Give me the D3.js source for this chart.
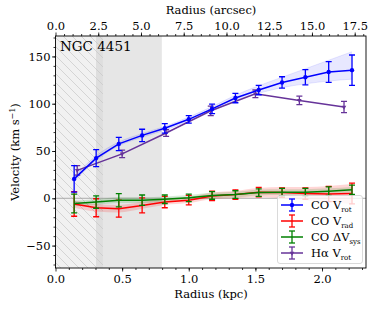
<!DOCTYPE html>
<head>
  <meta charset="UTF-8">
  <style>
    body { margin: 0; background: #fff; }
    svg { display: block; font-family: "DejaVu Serif", serif; }
  </style>
</head>
<body>
<script src="https://d3js.org/d3.v7.min.js"></script>
<div id="chart"></div>
<script>
  // CO ring radii (kpc)
  var radCO = [0.14, 0.305, 0.475, 0.65, 0.82, 1.0, 1.175, 1.35, 1.525, 1.70, 1.875, 2.05, 2.225];
  // CO rotation velocity
  var vRot = [20.5, 42.5, 57.5, 66.5, 74, 83.5, 94.5, 106, 114.5, 122.5, 128, 133.5, 135.5];
  var vRotErr = [14, 9, 7, 6.5, 5, 4, 5, 5, 5, 6, 8, 11, 16];
  var vRotLo = [18, 40, 55.5, 64.5, 72, 81.5, 92, 103, 111, 117, 121, 124, 126];
  var vRotHi = [23, 45, 59.5, 68.5, 76, 86, 97, 109, 119, 128, 137, 146, 155];
  // CO radial velocity
  var vRad = [-6, -10, -11, -7.5, -4, -2, 2.5, 4, 6.5, 6, 5, 4.5, 5];
  var vRadErr = [13, 9.5, 9, 8, 6, 5, 5, 5, 5, 5, 6, 8, 11];
  var vRadLo = [-10, -14, -15, -11, -7, -5, -1, 0, 1, 0, -2, -4, -6];
  var vRadHi = [-2, -6, -7, -4, -1, 1, 6, 8, 11, 12, 12, 13, 15];
  // CO systemic velocity offset
  var vSys = [-5.5, -4, -2, -2, -1, 0.5, 3, 4, 6, 6.5, 6.5, 7.5, 9];
  var vSysErr = [10, 6.5, 7, 5.5, 4.5, 4, 4, 4, 4, 4, 4, 4.5, 5];
  var vSysLo = [-8.5, -7, -5, -5, -4, -2.5, 0, 1, 3, 3.5, 3.5, 4.5, 6];
  var vSysHi = [-2.5, -1, 1, 1, 2, 3.5, 6, 7, 9, 9.5, 9.5, 10.5, 12];
  // H-alpha rotation
  var radHa = [0.163, 0.50, 0.83, 1.165, 1.50, 1.83, 2.165];
  var vHa = [29.5, 47, 69, 92.5, 110.5, 103.5, 96.5];
  var vHaErr = [5, 4, 3.5, 5, 4, 4.5, 6];

  var kpcTicks = [0.0, 0.5, 1.0, 1.5, 2.0];
  var arcTicks = [0.0, 2.5, 5.0, 7.5, 10.0, 12.5, 15.0, 17.5];
  var velTicks = [-50, 0, 50, 100, 150];
  var kpcPerArcsec = 0.1283;
  var beamEnd = 0.356;          // hatched region
  var greyBand = [0.304, 0.798];

  var width = 374, height = 309;
  var margin = {top: 36, right: 8, bottom: 41, left: 55.5};

  var svg = d3.select("#chart").append("svg")
    .attr("width", width).attr("height", height);

  var x = d3.scaleLinear().domain([0, 2.33]).range([margin.left, width - margin.right]);
  var xa = d3.scaleLinear().domain([0, 2.33 / kpcPerArcsec]).range([margin.left, width - margin.right]);
  var y = d3.scaleLinear().domain([-73.7, 171.6]).range([height - margin.bottom, margin.top]);

  var defs = svg.append("defs");
  var pat = defs.append("pattern").attr("id", "hatch")
    .attr("patternUnits", "userSpaceOnUse").attr("width", 9).attr("height", 9);
  pat.append("rect").attr("width", 9).attr("height", 9).attr("fill", "#f1f1f1");
  pat.append("path").attr("d", "M-1,-1 L10,10 M-1,8 L1,10 M8,-1 L10,1")
    .attr("stroke", "#cdcdcd").attr("stroke-width", 0.8);
  defs.append("clipPath").attr("id", "clip").append("rect")
    .attr("x", x(0)).attr("y", y.range()[1])
    .attr("width", x.range()[1] - x(0)).attr("height", y.range()[0] - y.range()[1]);

  var plot = svg.append("g").attr("clip-path", "url(#clip)");

  // shaded regions
  plot.append("rect")
    .attr("x", x(0)).attr("y", margin.top)
    .attr("width", x(beamEnd) - x(0)).attr("height", y.range()[0] - margin.top)
    .attr("fill", "url(#hatch)");
  plot.append("rect")
    .attr("x", x(greyBand[0])).attr("y", margin.top)
    .attr("width", x(greyBand[1]) - x(greyBand[0])).attr("height", y.range()[0] - margin.top)
    .attr("fill", "#c8c8c8").attr("opacity", 0.45);

  // zero line
  plot.append("line")
    .attr("x1", x(0)).attr("x2", x.range()[1])
    .attr("y1", y(0)).attr("y2", y(0))
    .attr("stroke", "#999").attr("stroke-width", 0.8);

  function band(rad, lo, hi, color, op) {
    var area = d3.area()
      .x(function(d, i) { return x(rad[i]); })
      .y0(function(d, i) { return y(lo[i]); })
      .y1(function(d, i) { return y(hi[i]); })
      .curve(d3.curveMonotoneX);
    plot.append("path").datum(rad).attr("d", area)
      .attr("fill", color).attr("opacity", op);
  }

  band(radCO, vRadLo, vRadHi, "#ff0000", 0.16);
  band(radCO, vSysLo, vSysHi, "#008000", 0.15);
  band(radCO, vRotLo, vRotHi, "#0000ff", 0.09);
  // faint sample lines at band edges
  [vRotLo, vRotHi].forEach(function(arr) {
    plot.append("path").datum(radCO)
      .attr("d", d3.line().x(function(d) { return x(d); })
        .y(function(d, i) { return y(arr[i]); }).curve(d3.curveMonotoneX))
      .attr("fill", "none").attr("stroke", "#0000ff").attr("stroke-opacity", 0.12).attr("stroke-width", 0.8);
  });

  function series(rad, val, err, color, marker) {
    var g = plot.append("g");
    g.append("path").datum(rad)
      .attr("d", d3.line().x(function(d) { return x(d); }).y(function(d, i) { return y(val[i]); }))
      .attr("fill", "none").attr("stroke", color).attr("stroke-width", 1.5);
    rad.forEach(function(r, i) {
      var cx = x(r);
      g.append("line").attr("x1", cx).attr("x2", cx)
        .attr("y1", y(val[i] - err[i])).attr("y2", y(val[i] + err[i]))
        .attr("stroke", color).attr("stroke-width", 1.3);
      [val[i] - err[i], val[i] + err[i]].forEach(function(v) {
        g.append("line").attr("x1", cx - 3).attr("x2", cx + 3)
          .attr("y1", y(v)).attr("y2", y(v))
          .attr("stroke", color).attr("stroke-width", 1.3);
      });
      if (marker === "o") {
        g.append("circle").attr("cx", cx).attr("cy", y(val[i])).attr("r", 2.2).attr("fill", color);
      } else if (marker === "v") {
        g.append("path").attr("d", d3.symbol().type(d3.symbolTriangle).size(9)())
          .attr("transform", "translate(" + cx + "," + y(val[i]) + ") rotate(180)")
          .attr("fill", color);
      }
    });
  }

  series(radCO, vRad, vRadErr, "#ff0000", null);
  series(radCO, vSys, vSysErr, "#008000", null);
  series(radHa, vHa, vHaErr, "#663399", "v");
  series(radCO, vRot, vRotErr, "#0000ff", "o");

  // axes
  var fs = "11.5px";
  var bottomAxis = svg.append("g")
    .attr("transform", "translate(0," + y.range()[0] + ")")
    .call(d3.axisBottom(x).tickValues(kpcTicks).tickFormat(d3.format(".1f")).tickSize(3.5).tickSizeOuter(0));
  svg.append("g")
    .attr("transform", "translate(0," + y.range()[0] + ")")
    .call(d3.axisBottom(x).tickValues(d3.range(0.1, 2.31, 0.1)).tickFormat("").tickSize(2).tickSizeOuter(0));
  var topAxis = svg.append("g")
    .attr("transform", "translate(0," + margin.top + ")")
    .call(d3.axisTop(xa).tickValues(arcTicks).tickFormat(d3.format(".1f")).tickSize(3.5).tickSizeOuter(0));
  svg.append("g")
    .attr("transform", "translate(0," + margin.top + ")")
    .call(d3.axisTop(xa).tickValues(d3.range(0.5, 18.1, 0.5)).tickFormat("").tickSize(2).tickSizeOuter(0));
  var leftAxis = svg.append("g")
    .attr("transform", "translate(" + margin.left + ",0)")
    .call(d3.axisLeft(y).tickValues(velTicks).tickFormat(function(d) { return d < 0 ? "\u2212" + Math.abs(d) : d; }).tickSize(3.5).tickSizeOuter(0));
  svg.append("g")
    .attr("transform", "translate(" + margin.left + ",0)")
    .call(d3.axisLeft(y).tickValues(d3.range(-70, 171, 10)).tickFormat("").tickSize(2).tickSizeOuter(0));

  svg.selectAll(".domain").remove();
  svg.selectAll(".tick line").attr("stroke", "#000").attr("stroke-width", 0.8);
  [bottomAxis, topAxis, leftAxis].forEach(function(a) {
    a.selectAll("text").attr("font-family", "DejaVu Serif").attr("font-size", fs).attr("fill", "#000");
  });
  leftAxis.selectAll("text").attr("x", -5);

  // frame
  svg.append("rect")
    .attr("x", x(0)).attr("y", margin.top)
    .attr("width", x.range()[1] - x(0)).attr("height", y.range()[0] - margin.top)
    .attr("fill", "none").attr("stroke", "#000").attr("stroke-width", 0.9);

  // titles
  svg.append("text").attr("x", 211).attr("y", 298).attr("text-anchor", "middle")
    .attr("font-size", fs).text("Radius (kpc)");
  svg.append("text").attr("x", 211).attr("y", 14).attr("text-anchor", "middle")
    .attr("font-size", fs).text("Radius (arcsec)");
  var yl = svg.append("text").attr("transform", "translate(19,152) rotate(-90)")
    .attr("text-anchor", "middle").attr("font-size", fs);
  yl.append("tspan").text("Velocity (km s");
  yl.append("tspan").attr("dy", -4).attr("font-size", "8px").text("\u22121");
  yl.append("tspan").attr("dy", 4).text(")");

  svg.append("text").attr("x", 60).attr("y", 51).attr("font-size", "13.5px").text("NGC 4451");

  // legend
  var legendItems = [
    {pre: "CO V", sub: "rot", color: "#0000ff", marker: "o"},
    {pre: "CO V", sub: "rad", color: "#ff0000", marker: null},
    {pre: "CO \u0394V", sub: "sys", color: "#008000", marker: null},
    {pre: "H\u03B1 V", sub: "rot", color: "#663399", marker: "v"}
  ];
  var lg = svg.append("g");
  lg.append("rect").attr("x", 277.5).attr("y", 195.5).attr("width", 85).attr("height", 68)
    .attr("rx", 2.5).attr("fill", "#fff").attr("fill-opacity", 0.8)
    .attr("stroke", "#d0d0d0").attr("stroke-width", 0.8);
  legendItems.forEach(function(d, i) {
    var cy = 205 + i * 16;
    var g = lg.append("g");
    g.append("line").attr("x1", 281).attr("x2", 303).attr("y1", cy).attr("y2", cy)
      .attr("stroke", d.color).attr("stroke-width", 1.5);
    g.append("line").attr("x1", 292).attr("x2", 292).attr("y1", cy - 6).attr("y2", cy + 6)
      .attr("stroke", d.color).attr("stroke-width", 1.3);
    g.append("line").attr("x1", 289).attr("x2", 295).attr("y1", cy - 6).attr("y2", cy - 6)
      .attr("stroke", d.color).attr("stroke-width", 1.3);
    g.append("line").attr("x1", 289).attr("x2", 295).attr("y1", cy + 6).attr("y2", cy + 6)
      .attr("stroke", d.color).attr("stroke-width", 1.3);
    if (d.marker === "o") g.append("circle").attr("cx", 292).attr("cy", cy).attr("r", 2.2).attr("fill", d.color);
    if (d.marker === "v") g.append("path").attr("d", d3.symbol().type(d3.symbolTriangle).size(9)())
      .attr("transform", "translate(292," + cy + ") rotate(180)").attr("fill", d.color);
    var t = g.append("text").attr("x", 311).attr("y", cy + 4).attr("font-size", fs);
    t.append("tspan").text(d.pre);
    t.append("tspan").attr("dy", 2.5).attr("font-size", "7px").text(d.sub);
  });
</script>
</body>
</html>
